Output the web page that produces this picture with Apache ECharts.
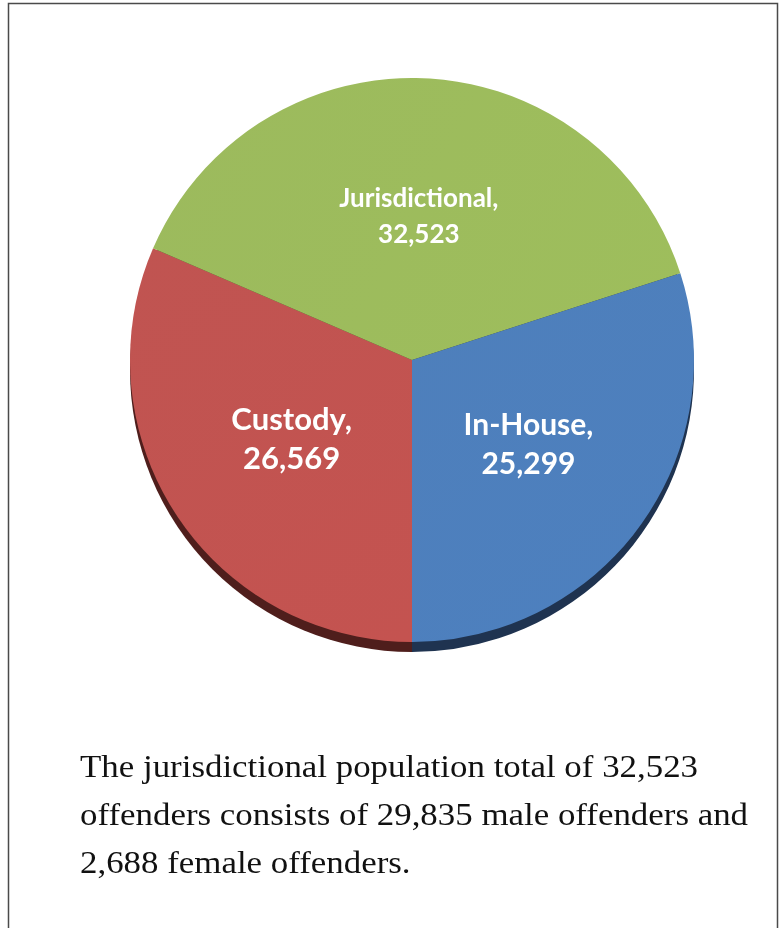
<!DOCTYPE html>
<html>
<head>
<meta charset="utf-8">
<script src="https://cdn.jsdelivr.net/npm/echarts@6/dist/echarts.min.js"></script>
<style>
  html, body { margin: 0; padding: 0; background: #ffffff; }
  #chart { width: 782px; height: 928px; }
</style>
</head>
<body>
<div id="chart"></div>
<script>
// Offender population groups (clockwise, starting at 6 o'clock)
const categories = ['Custody', 'Jurisdictional', 'In-House'];
const population = [26569, 32523, 25299];
const faceColors = ['#bf514e', '#9ab95a', '#4b7dba'];
const edgeColors = ['#4f1e1c', '#3d4a22', '#1f3350'];
const labelSizes = [31, 26, 30];
const labelLineHeights = [39, 36, 39];

const noteLines = [
  'The jurisdictional population total of 32,523',
  'offenders consists of 29,835 male offenders and',
  '2,688 female offenders.'
];

const fmt = v => v.toLocaleString('en-US');

const chart = echarts.init(document.getElementById('chart'), null, { renderer: 'canvas' });

const faceData = categories.map((name, i) => ({
  name,
  value: population[i],
  itemStyle: {
    color: {
      type: 'linear', x: 0, y: 0, x2: 1, y2: 1,
      colorStops: [
        { offset: 0, color: echarts.color.lift(faceColors[i], 0.02) },
        { offset: 1, color: echarts.color.lift(faceColors[i], -0.03) }
      ]
    }
  },
  label: { fontSize: labelSizes[i], lineHeight: labelLineHeights[i] }
}));

const edgeData = categories.map((name, i) => ({
  name,
  value: population[i],
  itemStyle: { color: edgeColors[i] }
}));

chart.setOption({
  backgroundColor: '#ffffff',
  animation: false,
  graphic: [
    {
      type: 'rect',
      shape: { x: 8.5, y: 3.5, width: 769, height: 960 },
      style: { fill: 'none', stroke: '#4a4a4a', lineWidth: 1.5 },
      silent: true
    },
    ...noteLines.map((t, i) => ({
      type: 'text',
      x: 80,
      y: 753 + i * 48,
      scaleX: 1.09,
      style: {
        text: t,
        font: '32px "Liberation Serif", "DejaVu Serif", serif',
        fill: '#111111'
      },
      silent: true
    }))
  ],
  series: [
    {
      // darker rim beneath the pie face
      type: 'pie',
      radius: 282,
      center: [412, 370],
      startAngle: 270,
      clockwise: true,
      silent: true,
      z: 1,
      label: { show: false },
      labelLine: { show: false },
      data: edgeData
    },
    {
      type: 'pie',
      radius: 282,
      center: [412, 360],
      startAngle: 270,
      clockwise: true,
      silent: true,
      z: 2,
      itemStyle: { borderWidth: 0 },
      label: {
        show: true,
        position: 'inside',
        color: '#ffffff',
        fontFamily: 'Lato, "Open Sans", sans-serif',
        fontWeight: 'bold',
        formatter: p => p.name + ',\n' + fmt(p.value)
      },
      labelLine: { show: false },
      data: faceData
    }
  ]
});
</script>
</body>
</html>
